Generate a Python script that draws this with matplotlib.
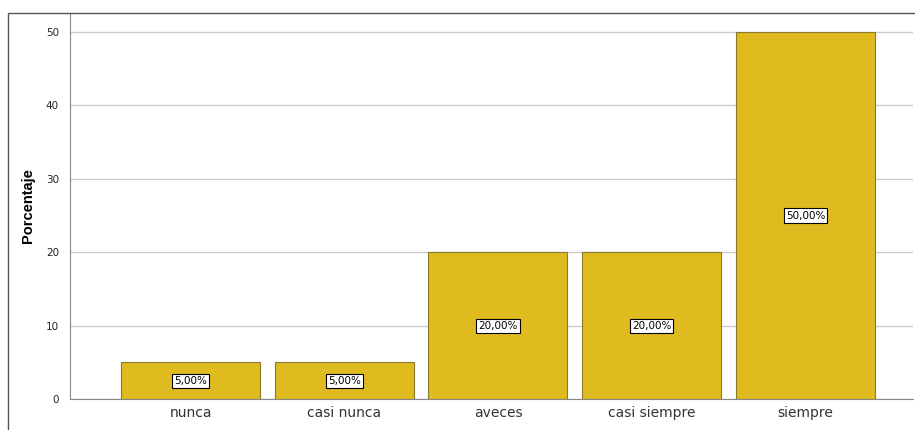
import matplotlib.pyplot as plt
from matplotlib.patches import Rectangle

categorias = ['nunca', 'casi nunca', 'aveces', 'casi siempre', 'siempre']
porcentajes = [5.0, 5.0, 20.0, 20.0, 50.0]
etiquetas = ['5,00%', '5,00%', '20,00%', '20,00%', '50,00%']
yticks = [0, 10, 20, 30, 40, 50]

fig = plt.figure(figsize=(9.15, 4.3), dpi=100)
ax = fig.add_axes([70 / 915, 31 / 430, 843 / 915, 386 / 430])

# outer frame
fig.patches.append(Rectangle((8 / 915, -0.1), 1.2, (430 - 13) / 430 + 0.1,
                             transform=fig.transFigure, fill=False,
                             edgecolor='#555555', linewidth=1.0))

x = list(range(len(categorias)))
ax.bar(x, porcentajes, width=0.904, color='#e0bb1f', edgecolor='#8a7a2c',
       linewidth=0.8, zorder=2)

for xi, v, t in zip(x, porcentajes, etiquetas):
    ax.text(xi, v / 2, t, ha='center', va='center', fontsize=7.5,
            bbox=dict(boxstyle='square,pad=0.2', facecolor='white',
                      edgecolor='black', linewidth=0.8), zorder=3)

ax.set_xlim(-0.784, 4.70)
ax.set_ylim(0, 52.6)
ax.set_yticks(yticks)
ax.set_xticks(x)
ax.set_xticklabels(categorias, fontsize=10, color='#333333')
ax.tick_params(axis='y', labelsize=7.5, length=0, pad=8, colors='#222222')
ax.tick_params(axis='x', length=0, pad=5)
ax.yaxis.grid(True, color='#cccccc', linewidth=1.0, zorder=0)
ax.set_axisbelow(True)

for s in ['top', 'right']:
    ax.spines[s].set_visible(False)
for s in ['left', 'bottom']:
    ax.spines[s].set_color('#888888')

ax.set_ylabel('Porcentaje', fontsize=10.5, fontweight='bold',
              family='Liberation Sans', labelpad=8)

fig.savefig('out.png', dpi=100)
